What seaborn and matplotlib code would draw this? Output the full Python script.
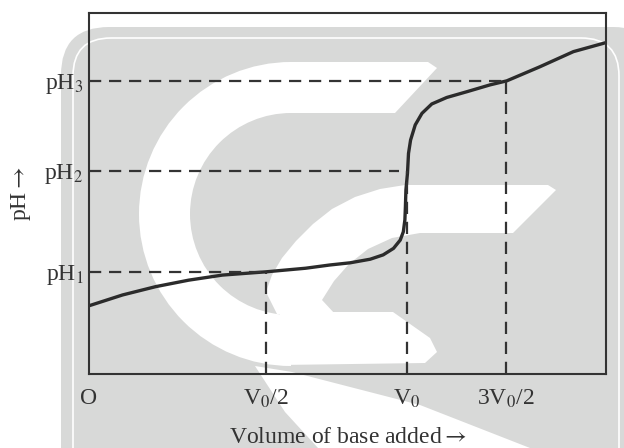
import matplotlib
matplotlib.use("Agg")
import matplotlib.pyplot as plt
from matplotlib.patches import FancyBboxPatch, Wedge, Polygon
import pandas as pd
import seaborn as sns

# titration curve (x: fraction of axis width, y: fraction of axis height)
curve_x = [0.000, 0.065, 0.129, 0.193, 0.258, 0.342, 0.419, 0.466, 0.505, 0.544,
           0.569, 0.589, 0.602, 0.608, 0.611, 0.612, 0.613, 0.616, 0.618, 0.622,
           0.631, 0.644, 0.663, 0.692, 0.731, 0.776, 0.808, 0.872, 0.937, 1.000]
curve_y = [0.189, 0.219, 0.242, 0.260, 0.274, 0.283, 0.293, 0.302, 0.308, 0.318,
           0.330, 0.348, 0.371, 0.394, 0.427, 0.463, 0.510, 0.556, 0.611, 0.648,
           0.690, 0.722, 0.748, 0.766, 0.782, 0.801, 0.812, 0.851, 0.893, 0.918]

# reference levels
ph_levels = [0.283, 0.563, 0.812]
ph_labels = ["pH$_1$", "pH$_2$", "pH$_3$"]
vol_ticks = [0.0, 0.342, 0.615, 0.807]
vol_labels = ["O", "V$_0$/2", "V$_0$", "3V$_0$/2"]
# where each horizontal guide stops / each vertical guide reaches
guide_x_end = [0.342, 0.600, 0.807]
guide_y_end = [0.283, 0.563, 0.812]

sns.set_theme(style="white")
plt.rcParams["font.family"] = ["Liberation Serif", "DejaVu Serif"]
plt.rcParams["mathtext.fontset"] = "stix"

ink = "#333333"
gray = "#d8d9d8"

fig = plt.figure(figsize=(6.24, 4.48), dpi=100)

# watermark background drawn in pixel units
bg = fig.add_axes([0, 0, 1, 1], zorder=0)
bg.set_xlim(0, 624)
bg.set_ylim(448, 0)
bg.axis("off")
bg.add_patch(FancyBboxPatch((61, 27), 600, 500, boxstyle="round,pad=0,rounding_size=48",
                            fc=gray, ec="none"))
bg.add_patch(FancyBboxPatch((73, 38), 546, 480, boxstyle="round,pad=0,rounding_size=38",
                            fc="none", ec="white", lw=1.2))
bg.add_patch(Wedge((291, 214), 152, 90, 270, width=51, fc="white", ec="none"))
bg.add_patch(Polygon([(290, 62), (428, 62), (437, 68), (395, 113), (290, 113)],
                     fc="white", ec="none"))
bg.add_patch(Polygon([(266, 292), (272, 275), (282, 258), (296, 241), (313, 224), (332, 209),
                      (355, 197), (380, 189), (405, 185), (548, 185), (556, 190), (513, 233),
                      (420, 233), (392, 238), (368, 249), (349, 264), (334, 281),
                      (322, 300), (335, 314), (277, 314)],
                     fc="white", ec="none"))
bg.add_patch(Polygon([(280, 312), (393, 312), (430, 338), (437, 352), (425, 363),
                      (280, 365)], fc="white", ec="none"))
bg.add_patch(Polygon([(255, 366), (292, 372), (420, 405), (530, 448), (318, 448),
                      (285, 412)], fc="white", ec="none"))

ax = fig.add_axes([89 / 624, 74 / 448, 517 / 624, 361 / 448], zorder=1)
ax.set_facecolor("none")

df = pd.DataFrame({"volume": curve_x, "ph": curve_y})
sns.lineplot(data=df, x="volume", y="ph", sort=False, estimator=None,
             color="#2b2b2b", lw=2.4, ax=ax, solid_joinstyle="round", solid_capstyle="round")

for xe, ye in zip(guide_x_end, ph_levels):
    ax.plot([0, xe], [ye, ye], color=ink, lw=1.6, dashes=(5.5, 3.5))
for xv, ye in zip(vol_ticks[1:], guide_y_end):
    ax.plot([xv, xv], [0, ye], color=ink, lw=1.6, dashes=(5.5, 3.5))

ax.set_xlim(0, 1)
ax.set_ylim(0, 1)
ax.set_xticks(vol_ticks)
ax.set_xticklabels(vol_labels)
ax.set_yticks(ph_levels)
ax.set_yticklabels(ph_labels)
ax.tick_params(axis="both", length=0, labelsize=17, colors=ink)
ax.tick_params(axis="x", pad=10)
ax.tick_params(axis="y", pad=4)

ax.set_xlabel(r"Volume of base added$\rightarrow$", fontsize=17, color=ink, labelpad=12)
ax.set_ylabel(r"pH$\rightarrow$", fontsize=17, color=ink, labelpad=8)

for s in ax.spines.values():
    s.set_visible(True)
    s.set_color(ink)
    s.set_linewidth(1.5)

fig.savefig("out.png", dpi=100)
